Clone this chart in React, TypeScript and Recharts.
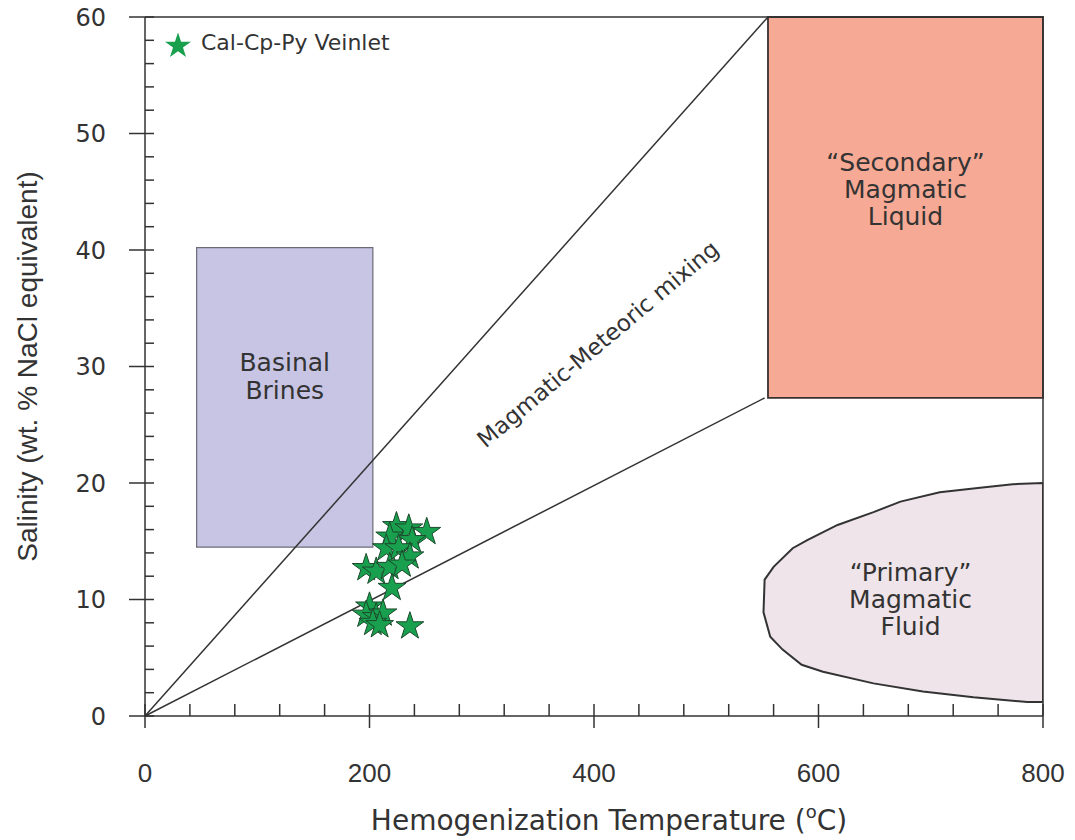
import React from 'react';
import {
  ComposedChart,
  Scatter,
  XAxis,
  YAxis,
  ReferenceArea,
  ReferenceLine,
  ReferenceDot,
  Legend,
  Symbols,
} from 'recharts';

// Cal-Cp-Py veinlet inclusions: homogenization temperature (°C) and salinity (wt.% NaCl eq.)
const veinletTh = [224, 235, 251, 218, 238, 215, 226, 236, 197, 206, 218, 229, 220, 200, 197, 206, 212, 203, 209, 236];
const veinletSal = [16.3, 16.1, 15.8, 15.4, 15.1, 14.4, 14.4, 13.7, 12.7, 12.4, 12.8, 13.0, 11.0, 9.4, 8.7, 8.5, 8.8, 8.0, 7.8, 7.7];

// outline of the "Primary" magmatic fluid field (closed)
const primaryTh = [800, 773, 744, 708, 673, 649, 617, 590, 577, 560, 552, 551, 557, 568, 585, 604, 649, 693, 738, 786, 800, 800];
const primarySal = [20.0, 19.9, 19.6, 19.2, 18.4, 17.5, 16.4, 15.1, 14.4, 12.8, 11.7, 8.9, 6.8, 5.7, 4.4, 3.8, 2.8, 2.1, 1.6, 1.2, 1.2, 20.0];

// mixing trend lines from the origin
const upperTrendTh = [0, 555];
const upperTrendSal = [0, 60];
const lowerTrendTh = [0, 552];
const lowerTrendSal = [0, 27.3];

// rectangular fields
const basinalTh = [46, 203];
const basinalSal = [14.5, 40.2];
const secondaryTh = [555, 800];
const secondarySal = [27.3, 60];

// axes
const majorX = [0, 200, 400, 600, 800];
const minorX = [0, 40, 80, 120, 160, 200, 240, 280, 320, 360, 400, 440, 480, 520, 560, 600, 640, 680, 720, 760, 800];
const majorY = [0, 10, 20, 30, 40, 50, 60];
const minorY = [0, 2, 4, 6, 8, 10, 12, 14, 16, 18, 20, 22, 24, 26, 28, 30, 32, 34, 36, 38, 40, 42, 44, 46, 48, 50, 52, 54, 56, 58, 60];

const veinlet = veinletTh.map((x, i) => ({ x, y: veinletSal[i] }));
const primaryField = primaryTh.map((x, i) => ({ x, y: primarySal[i] }));

const INK = '#333';
const WIDE = 'DejaVu Sans, Verdana, sans-serif';
const ARIAL = 'Liberation Sans, Arial, sans-serif';

// multi-line label for an area, lines placed from the top of the box
const boxLabel = (lines: string[], top: number, step: number) => (props: any) => {
  const { x, y, width } = props.viewBox;
  return (
    <text x={x + width / 2} y={y + top} textAnchor="middle" fill={INK} fontSize={25} fontFamily={WIDE}>
      {lines.map((l, i) => (
        <tspan key={l} x={x + width / 2} dy={i === 0 ? 0 : step}>
          {l}
        </tspan>
      ))}
    </text>
  );
};

const dotLabel = (lines: string[], step: number) => (props: any) => {
  const { x, y, width, height } = props.viewBox;
  const cx = x + width / 2;
  const cy = y + height / 2;
  return (
    <text x={cx} y={cy - step} textAnchor="middle" fill={INK} fontSize={25} fontFamily={WIDE}>
      {lines.map((l, i) => (
        <tspan key={l} x={cx} dy={i === 0 ? 0 : step}>
          {l}
        </tspan>
      ))}
    </text>
  );
};

const mixingLabel = (props: any) => {
  const { x, y, width, height } = props.viewBox;
  const cx = x + width / 2;
  const cy = y + height / 2;
  return (
    <text
      x={cx}
      y={cy}
      textAnchor="middle"
      fill={INK}
      fontSize={23}
      fontFamily={WIDE}
      transform={`rotate(-40 ${cx} ${cy})`}
    >
      Magmatic-Meteoric mixing
    </text>
  );
};

const StarMark = (p: any) => (
  <Symbols cx={p.cx} cy={p.cy} type="star" size={240} fill="#19a04f" stroke="#1c4a2c" strokeWidth={1} />
);

// x ticks: short inward tick every 40 °C, crossing tick + label at the majors
const XTick = (p: any) => {
  const { x, y, payload } = p;
  const major = majorX.includes(payload.value);
  return (
    <g>
      <line x1={x} x2={x} y1={y - 12} y2={major ? y + 12 : y} stroke={INK} strokeWidth={1.5} />
      {major && (
        <text x={x} y={y + 66} textAnchor="middle" fill={INK} fontSize={26} fontFamily={ARIAL}>
          {payload.value}
        </text>
      )}
    </g>
  );
};

const noLabel = () => <g />;

const App = () => {
  return (
    <div style={{ position: 'absolute', left: 0, top: 0 }}>
      <ComposedChart width={1075} height={840} margin={{ top: 17, right: 32, left: 0, bottom: 0 }}>
        <XAxis
          type="number"
          dataKey="x"
          domain={[0, 800]}
          ticks={minorX}
          interval={0}
          allowDataOverflow
          height={124}
          tickSize={0}
          tickMargin={0}
          tickLine={false}
          stroke={INK}
          strokeWidth={1.5}
          tick={XTick}
          label={{
            content: (p: any) => {
              const { x, y, width } = p.viewBox;
              return (
                <text x={x + width / 2 + 15} y={y + 114} textAnchor="middle" fill={INK} fontSize={28} fontFamily={WIDE}>
                  Hemogenization Temperature (
                  <tspan fontSize={18} dy={-12}>o</tspan>
                  <tspan dy={12}>C)</tspan>
                </text>
              );
            },
          }}
        />
        <YAxis
          type="number"
          dataKey="y"
          domain={[0, 60]}
          ticks={majorY}
          allowDataOverflow
          width={145}
          tickSize={16}
          tickMargin={23}
          stroke={INK}
          strokeWidth={1.5}
          tick={{ fill: INK, fontSize: 24, fontFamily: WIDE }}
          label={{
            content: (p: any) => {
              const { x, y, height } = p.viewBox;
              const cx = x + 37;
              const cy = y + height / 2;
              return (
                <text
                  x={cx}
                  y={cy}
                  textAnchor="middle"
                  fill={INK}
                  fontSize={28}
                  fontFamily={ARIAL}
                  transform={`rotate(-90 ${cx} ${cy})`}
                >
                  Salinity (wt. % NaCl equivalent)
                </text>
              );
            },
          }}
        />
        <YAxis
          yAxisId="minor"
          type="number"
          domain={[0, 60]}
          ticks={minorY}
          interval={0}
          allowDataOverflow
          mirror
          axisLine={false}
          tick={noLabel}
          tickSize={9}
          stroke={INK}
          strokeWidth={1.5}
        />

        <ReferenceArea
          x1={secondaryTh[0]}
          x2={secondaryTh[1]}
          y1={secondarySal[0]}
          y2={secondarySal[1]}
          fill="#f6a995"
          fillOpacity={1}
          stroke="#3a3030"
          strokeWidth={1.8}
          label={{ content: boxLabel(['\u201cSecondary\u201d', 'Magmatic', 'Liquid'], 154, 27) }}
        />
        <ReferenceArea
          x1={basinalTh[0]}
          x2={basinalTh[1]}
          y1={basinalSal[0]}
          y2={basinalSal[1]}
          fill="#c7c5e3"
          fillOpacity={1}
          stroke="#6b6b78"
          strokeWidth={1.2}
          label={{ content: boxLabel(['Basinal', 'Brines'], 123, 28) }}
        />

        <ReferenceLine
          segment={[
            { x: upperTrendTh[0], y: upperTrendSal[0] },
            { x: upperTrendTh[1], y: upperTrendSal[1] },
          ]}
          stroke={INK}
          strokeWidth={1.5}
        />
        <ReferenceLine
          segment={[
            { x: lowerTrendTh[0], y: lowerTrendSal[0] },
            { x: lowerTrendTh[1], y: lowerTrendSal[1] },
          ]}
          stroke={INK}
          strokeWidth={1.5}
        />
        <ReferenceLine y={60} stroke={INK} strokeWidth={1.5} />
        <ReferenceLine x={800} stroke={INK} strokeWidth={1.5} />

        <Scatter
          name="primary"
          data={primaryField}
          legendType="none"
          line={{ stroke: INK, strokeWidth: 2, fill: '#eee4ea' }}
          lineJointType="linear"
          shape={() => <g />}
          isAnimationActive={false}
        />

        <ReferenceDot x={682} y={9.3} r={0} fill="none" stroke="none" label={{ content: dotLabel(['\u201cPrimary\u201d', 'Magmatic', 'Fluid'], 27) }} />
        <ReferenceDot x={408} y={31.4} r={0} fill="none" stroke="none" label={{ content: mixingLabel }} />

        <Scatter
          name="Cal-Cp-Py Veinlet"
          data={veinlet}
          shape={StarMark}
          legendType="star"
          fill="#19a04f"
          stroke="#1c4a2c"
          isAnimationActive={false}
        />

        <Legend
          layout="horizontal"
          verticalAlign="middle"
          align="center"
          iconSize={26}
          wrapperStyle={{ top: 30, left: 165, width: 'auto' }}
          formatter={(value: string) => (
            <span style={{ color: INK, fontSize: 22, fontFamily: WIDE, marginLeft: 6 }}>{value}</span>
          )}
        />
      </ComposedChart>
    </div>
  );
};

export default App;
